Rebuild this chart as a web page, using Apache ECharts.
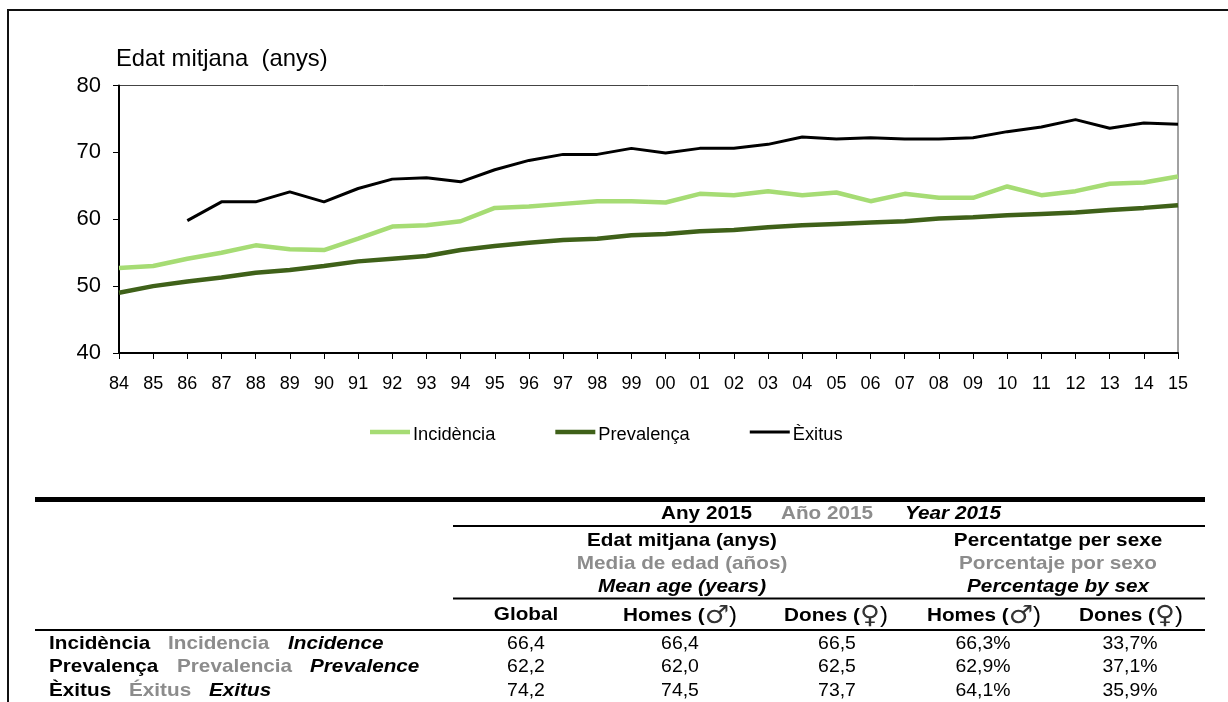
<!DOCTYPE html>
<html>
<head>
<meta charset="utf-8">
<title>Edat mitjana</title>
<script src="https://cdn.jsdelivr.net/npm/echarts@6/dist/echarts.min.js"></script>
<style>
  html, body { margin: 0; padding: 0; background: #fff; }
  #chart { width: 1228px; height: 702px; }
</style>
</head>
<body>
<div id="chart"></div>
<script>
// chart data
const years = ['84','85','86','87','88','89','90','91','92','93','94','95','96','97','98','99','00','01','02','03','04','05','06','07','08','09','10','11','12','13','14','15'];
const incidencia = [52.7,53.0,54.1,55.0,56.1,55.5,55.4,57.1,58.9,59.1,59.7,61.7,61.9,62.3,62.7,62.7,62.5,63.8,63.6,64.2,63.6,64.0,62.7,63.8,63.2,63.2,64.9,63.6,64.2,65.3,65.5,66.4];
const prevalenca = [49.0,50.0,50.7,51.3,52.0,52.4,53.0,53.7,54.1,54.5,55.4,56.0,56.5,56.9,57.1,57.6,57.8,58.2,58.4,58.8,59.1,59.3,59.5,59.7,60.1,60.3,60.6,60.8,61.0,61.4,61.7,62.1];
const exitus = [null,null,59.8,62.6,62.6,64.1,62.6,64.6,66.0,66.2,65.6,67.4,68.8,69.7,69.7,70.6,69.9,70.6,70.6,71.2,72.3,72.0,72.2,72.0,72.0,72.2,73.1,73.8,74.9,73.6,74.4,74.2];

// table data
const yearHead = ['Any 2015', 'Año 2015', 'Year 2015'];
const ageHead = ['Edat mitjana (anys)', 'Media de edad (años)', 'Mean age (years)'];
const pctHead = ['Percentatge per sexe', 'Porcentaje por sexo', 'Percentage by sex'];
const rowNames = [
  ['Incidència', 'Incidencia', 'Incidence'],
  ['Prevalença', 'Prevalencia', 'Prevalence'],
  ['Èxitus', 'Éxitus', 'Exitus']
];
const rowValues = [
  ['66,4', '66,4', '66,5', '66,3%', '33,7%'],
  ['62,2', '62,0', '62,5', '62,9%', '37,1%'],
  ['74,2', '74,5', '73,7', '64,1%', '35,9%']
];

const FONT = '"Liberation Sans", Arial, sans-serif';
const GREY = '#8c8c8c';
const STRETCH = 1.09; // the original is a bit wider than tall

// legend keys are plain bars sitting a bit above the text middle,
// the two empty subpaths keep the 40x18 box
const THICK_KEY = 'path://M0 3.8H40V8.2H0Z M0 0L0 0 M40 18L40 18';
const THIN_KEY = 'path://M0 4.5H40V7.5H0Z M0 0L0 0 M40 18L40 18';

function label(text, x, y, opt) {
  opt = opt || {};
  const plain = opt.bold === false;
  return {
    type: 'text', x: x, y: y + 1, z: 10,
    scaleX: plain ? 1.08 : STRETCH, scaleY: 1,
    style: Object.assign({
      text: text,
      font: (opt.italic ? 'italic ' : '') + (plain ? '18px ' : 'bold 19px ') + FONT,
      fill: opt.color || '#000',
      align: opt.align || 'left',
      verticalAlign: 'middle'
    }, opt.style || {})
  };
}

function rule(x1, x2, y, width) {
  return { type: 'line', z: 5, shape: { x1: x1, y1: y, x2: x2, y2: y }, style: { stroke: '#000', lineWidth: width } };
}

function sexHead(word, symbol, x) {
  return label('{b|' + word + ' (}{g|' + symbol + '}{p|)}', x, 615, {
    align: 'center',
    style: {
      rich: {
        b: { font: 'bold 19px ' + FONT, fill: '#000' },
        g: { font: '25px "DejaVu Sans"', fill: '#333' },
        p: { font: '22px ' + FONT, fill: '#000' }
      }
    }
  });
}

const tableItems = [];
// frame of the page
tableItems.push({ type: 'line', shape: { x1: 8, y1: 10, x2: 1228, y2: 10 }, style: { stroke: '#111', lineWidth: 2 } });
tableItems.push({ type: 'line', shape: { x1: 8, y1: 9, x2: 8, y2: 702 }, style: { stroke: '#111', lineWidth: 2 } });
// rules
tableItems.push(rule(35, 1205, 499.5, 5), rule(453, 1205, 526, 2), rule(453, 1205, 598.5, 2), rule(35, 1205, 630, 2));

// header
const yearX = [661, 781, 905];
yearHead.forEach((t, i) => tableItems.push(label(t, yearX[i], 513, { color: i == 1 ? GREY : '#000', italic: i == 2 })));
const headY = [540, 563, 586];
ageHead.forEach((t, i) => tableItems.push(label(t, 682, headY[i], { align: 'center', color: i == 1 ? GREY : '#000', italic: i == 2 })));
pctHead.forEach((t, i) => tableItems.push(label(t, 1058, headY[i], { align: 'center', color: i == 1 ? GREY : '#000', italic: i == 2 })));

tableItems.push(label('Global', 526, 614, { align: 'center' }));
tableItems.push(sexHead('Homes', '♂', 680), sexHead('Dones', '♀', 836), sexHead('Homes', '♂', 984), sexHead('Dones', '♀', 1131));

// rows
const rowY = [643, 666, 690];
const nameX = [[49, 168, 288], [49, 177, 310], [49, 129, 209]];
const valueX = [526, 680, 837, 983, 1130];
rowNames.forEach((names, r) => {
  names.forEach((t, i) => tableItems.push(label(t, nameX[r][i], rowY[r], { color: i == 1 ? GREY : '#000', italic: i == 2 })));
  rowValues[r].forEach((t, i) => tableItems.push(label(t, valueX[i], rowY[r], { align: 'center', bold: false })));
});

const option = {
  animation: false,
  backgroundColor: '#fff',
  textStyle: { fontFamily: FONT, color: '#000' },
  title: {
    text: 'Edat mitjana  (anys)',
    left: 111, top: 42,
    textStyle: { fontFamily: FONT, fontSize: 23.8, fontWeight: 'normal', color: '#000' }
  },
  legend: {
    left: 365, top: 421,
    itemWidth: 40, itemHeight: 18, itemGap: 60,
    textStyle: { fontFamily: FONT, fontSize: 18.3, color: '#000', padding: [0, 0, 0, -2] },
    data: [
      { name: 'Incidència', icon: THICK_KEY },
      { name: 'Prevalença', icon: THICK_KEY },
      { name: 'Èxitus', icon: THIN_KEY }
    ]
  },
  grid: { left: 119, right: 50, top: 85.5, bottom: 349, show: true, borderColor: '#444', borderWidth: 1 },
  xAxis: {
    type: 'category',
    boundaryGap: false,
    data: years,
    axisLine: { lineStyle: { color: '#000', width: 2 } },
    axisTick: { show: true, alignWithLabel: true, length: 6, lineStyle: { color: '#000', width: 1 } },
    axisLabel: { interval: 0, margin: 22, fontFamily: FONT, fontSize: 18, color: '#000', hideOverlap: false, showMinLabel: true, showMaxLabel: true },
    splitLine: { show: false }
  },
  yAxis: {
    type: 'value',
    min: 40, max: 80, interval: 10,
    axisLine: { show: true, lineStyle: { color: '#000', width: 2 } },
    axisTick: { show: true, length: 6, lineStyle: { color: '#000', width: 1 } },
    axisLabel: { margin: 18, fontFamily: FONT, fontSize: 22, color: '#000', padding: [3, 0, 0, 0] },
    splitLine: { show: false }
  },
  series: [
    { name: 'Incidència', type: 'line', data: incidencia, symbol: 'none', lineStyle: { color: '#A6DC74', width: 4.5 }, itemStyle: { color: '#A6DC74' } },
    { name: 'Prevalença', type: 'line', data: prevalenca, symbol: 'none', lineStyle: { color: '#3F6119', width: 4.5 }, itemStyle: { color: '#3F6119' } },
    { name: 'Èxitus', type: 'line', data: exitus, symbol: 'none', lineStyle: { color: '#000', width: 3 }, itemStyle: { color: '#000' } }
  ],
  graphic: tableItems
};

const chart = echarts.init(document.getElementById('chart'), null, { renderer: 'canvas' });
chart.setOption(option);
</script>
</body>
</html>
